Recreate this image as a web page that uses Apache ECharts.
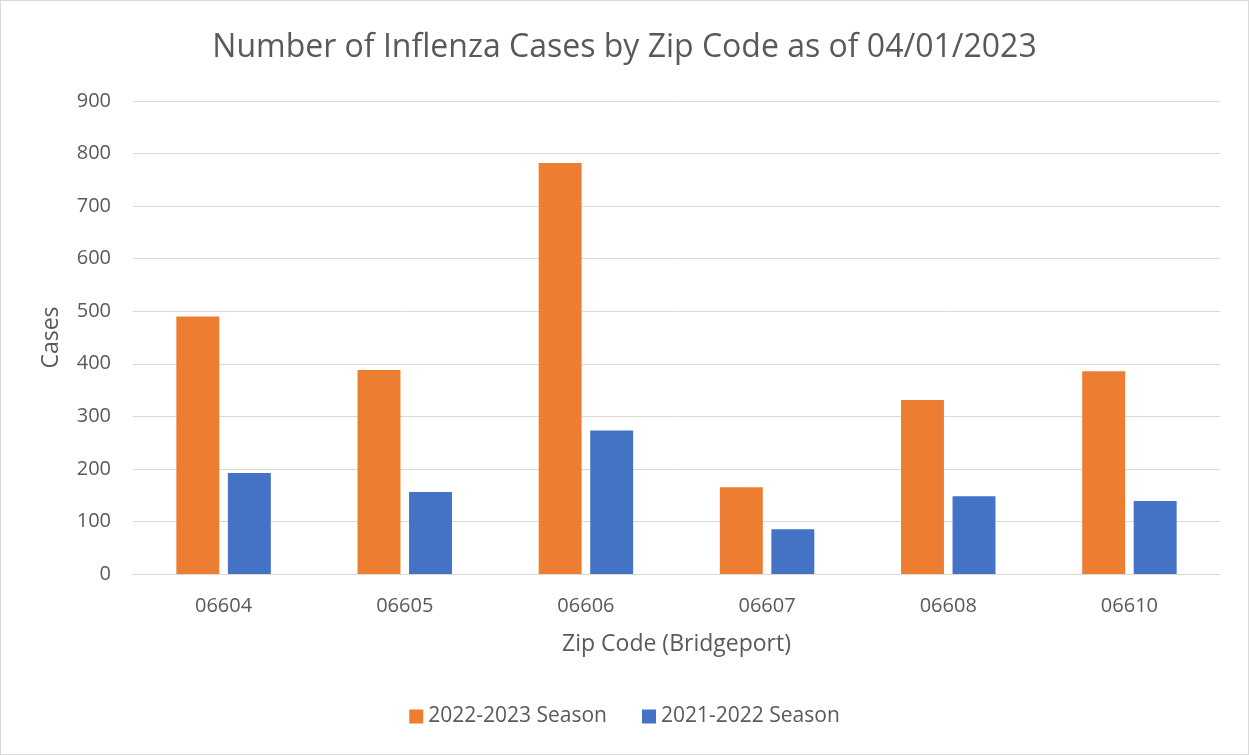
<!DOCTYPE html>
<html><head><meta charset="utf-8">
<script src="https://cdn.jsdelivr.net/npm/echarts@6/dist/echarts.min.js"></script>
<style>html,body{margin:0;padding:0;background:#fff}#c{width:1249px;height:755px;box-sizing:border-box;border:1px solid #d9d9d9}</style>
</head><body><div id="c"></div>
<script>
const categories = ['06604','06605','06606','06607','06608','06610'];
const season2223 = [490, 388, 782, 165, 331, 386];
const season2122 = [192, 156, 273, 85, 148, 139];
const yTicks = {min: 0, max: 900, interval: 100};
const FONT = '"Open Sans", "Noto Sans", sans-serif';
const chart = echarts.init(document.getElementById('c'), null, {renderer: 'canvas'});
chart.setOption({
  animation: false,
  textStyle: {fontFamily: FONT},
  title: {text: 'Number of Inflenza Cases by Zip Code as of 04/01/2023', left: 'center', top: 26,
    textStyle: {fontFamily: FONT, fontSize: 32, fontWeight: 'normal', color: '#595959'}},
  legend: {bottom: 22, left: 'center', itemWidth: 14, itemHeight: 14, itemGap: 35, icon: 'rect',
    textStyle: {fontFamily: FONT, fontSize: 21, color: '#595959'}},
  grid: {left: 132, right: 28, top: 100, bottom: 180, containLabel: false},
  xAxis: {type: 'category', data: categories,
    name: 'Zip Code (Bridgeport)', nameLocation: 'middle', nameGap: 59,
    nameTextStyle: {fontFamily: FONT, fontSize: 23, color: '#595959'},
    axisLine: {lineStyle: {color: '#d9d9d9'}}, axisTick: {show: false},
    axisLabel: {fontFamily: FONT, fontSize: 20, color: '#595959', margin: 22}},
  yAxis: {type: 'value', min: yTicks.min, max: yTicks.max, interval: yTicks.interval,
    name: 'Cases', nameLocation: 'middle', nameGap: 70, nameRotate: 90,
    nameTextStyle: {fontFamily: FONT, fontSize: 23, color: '#595959'},
    axisLine: {show: false}, axisTick: {show: false},
    axisLabel: {fontFamily: FONT, fontSize: 20, color: '#595959', margin: 22},
    splitLine: {lineStyle: {color: '#d9d9d9', width: 1}}},
  series: [
    {name: '2022-2023 Season', type: 'bar', data: season2223, itemStyle: {color: '#ed7d31'}, barWidth: '23.7%', barGap: '20%'},
    {name: '2021-2022 Season', type: 'bar', data: season2122, itemStyle: {color: '#4472c4'}, barWidth: '23.7%', barGap: '20%'}
  ]
});
</script></body></html>
